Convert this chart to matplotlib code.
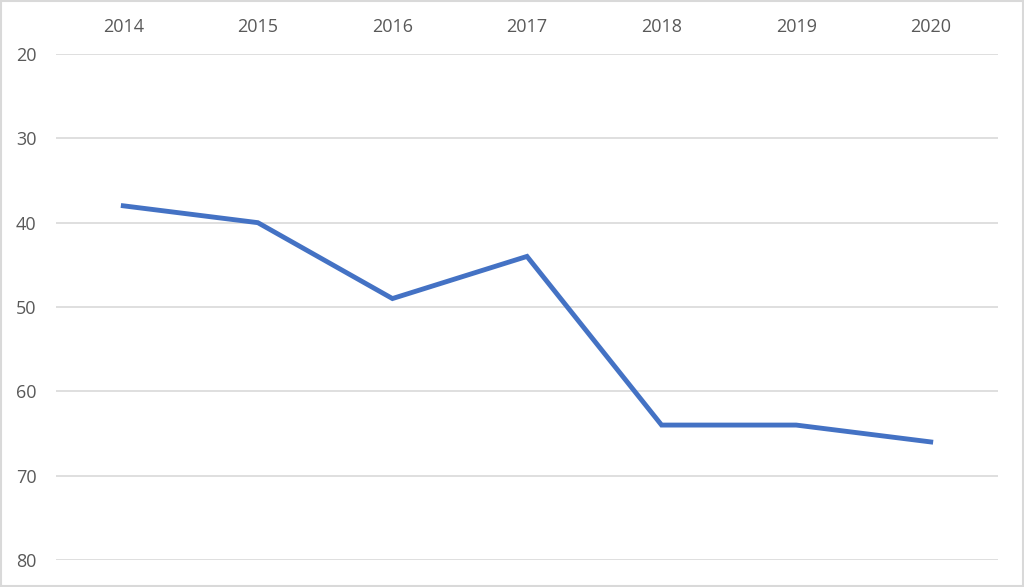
import matplotlib.pyplot as plt
from matplotlib.patches import Rectangle

years = ["2014", "2015", "2016", "2017", "2018", "2019", "2020"]
values = [38, 40, 49, 44, 64, 64, 66]
yticks = [20, 30, 40, 50, 60, 70, 80]

plt.rcParams['font.family'] = ['Open Sans', 'DejaVu Sans']

fig = plt.figure(figsize=(10.24, 5.87), dpi=100)
ax = fig.add_axes([56 / 1024, 1 - 560 / 587, (998 - 56) / 1024, (560 - 54) / 587])

x = list(range(len(years)))
ax.plot(x, values, color='#4472C4', linewidth=3.5, solid_joinstyle='miter')

ax.set_xlim(-0.5, len(years) - 0.5)
ax.set_ylim(80, 20)
ax.set_yticks(yticks)
ax.set_xticks(x)
ax.set_xticklabels(years)
ax.xaxis.tick_top()
ax.tick_params(axis='both', length=0, labelsize=13, colors='#595959')
ax.tick_params(axis='x', pad=13)
ax.tick_params(axis='y', pad=14)
ax.grid(axis='y', color='#D9D9D9', linewidth=1.2)
ax.set_axisbelow(True)
for s in ax.spines.values():
    s.set_visible(False)

fig.patches.append(Rectangle((0.001, 0.001), 0.998, 0.997, transform=fig.transFigure,
                             fill=False, edgecolor='#D9D9D9', linewidth=1.5))

fig.savefig('out.png', dpi=100)
